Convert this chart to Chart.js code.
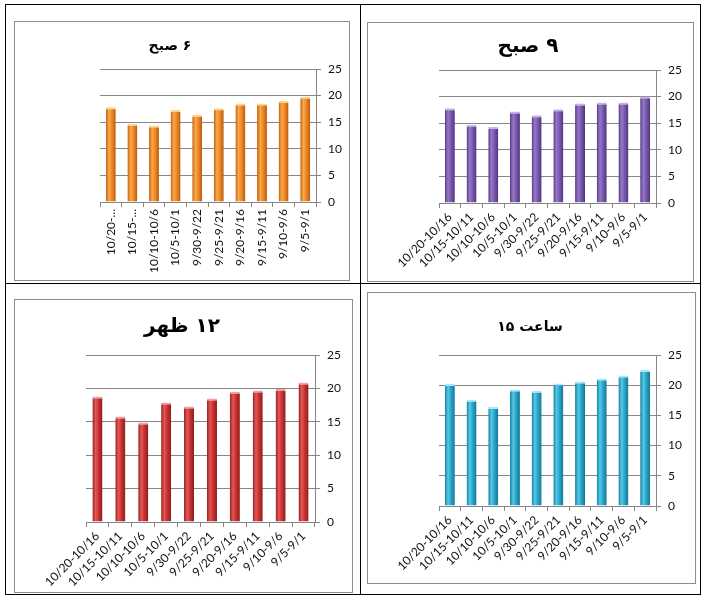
<!DOCTYPE html>
<html>
<head>
<meta charset="utf-8">
<script src="https://cdn.jsdelivr.net/npm/chart.js@4.4.1/dist/chart.umd.min.js"></script>
<style>
  html, body { margin: 0; padding: 0; background: #fff; }
  body { width: 704px; height: 596px; position: relative; overflow: hidden; }
  .line { position: absolute; background: #000; }
  .frame { position: absolute; border: 1px solid #8c8c8c; box-sizing: border-box; }
  canvas { position: absolute; }
</style>
</head>
<body>
<!-- outer black grid -->
<div class="line" style="left:5px; top:4px; width:696px; height:1px;"></div>
<div class="line" style="left:5px; top:594px; width:696px; height:1px;"></div>
<div class="line" style="left:5px; top:4px; width:1px; height:591px;"></div>
<div class="line" style="left:700px; top:4px; width:1px; height:591px;"></div>
<div class="line" style="left:360px; top:4px; width:1px; height:591px;"></div>
<div class="line" style="left:5px; top:283px; width:696px; height:1px;"></div>

<!-- grey chart frames -->
<div class="frame" style="left:14px; top:21px; width:336px; height:260px;"></div>
<div class="frame" style="left:367px; top:22px; width:327px; height:260px;"></div>
<div class="frame" style="left:14px; top:299px; width:339px; height:294px;"></div>
<div class="frame" style="left:367px; top:292px; width:329px; height:292px;"></div>

<canvas id="c1" width="334" height="258" style="left:15px; top:22px;"></canvas>
<canvas id="c2" width="325" height="258" style="left:368px; top:23px;"></canvas>
<canvas id="c3" width="337" height="292" style="left:15px; top:300px;"></canvas>
<canvas id="c4" width="327" height="290" style="left:368px; top:293px;"></canvas>

<script>
// ---------- data ----------
const categories = ['10/20-10/16','10/15-10/11','10/10-10/6','10/5-10/1','9/30-9/22','9/25-9/21','9/20-9/16','9/15-9/11','9/10-9/6','9/5-9/1'];
const categoriesTruncated = ['10/20-...','10/15-...','10/10-10/6','10/5-10/1','9/30-9/22','9/25-9/21','9/20-9/16','9/15-9/11','9/10-9/6','9/5-9/1'];
const yTickValues = [0, 5, 10, 15, 20, 25];
const titles = ['۶ صبح', '۹ صبح', '۱۲ ظهر', 'ساعت ۱۵'];
const temp6am  = [17.8, 14.7, 14.4, 17.3, 16.4, 17.6, 18.5, 18.5, 19.0, 19.8];
const temp9am  = [17.8, 14.7, 14.3, 17.2, 16.5, 17.6, 18.7, 18.9, 18.9, 20.0];
const temp12pm = [18.8, 15.8, 14.9, 17.9, 17.3, 18.5, 19.5, 19.7, 19.9, 20.9];
const temp15   = [20.2, 17.6, 16.4, 19.3, 19.1, 20.3, 20.6, 21.1, 21.6, 22.5];

// ---------- styles ----------
const palettes = [
  { stops: ['#c4600f', '#f9a84c', '#ee8a26', '#bb5a0e'], cap: '#fcd28f' },
  { stops: ['#553887', '#9679c6', '#7a5aae', '#4f3480'], cap: '#c7b4e6' },
  { stops: ['#961f1f', '#e45858', '#c93232', '#8f1c1c'], cap: '#f5a0a0' },
  { stops: ['#167d9c', '#55c8e8', '#2ba6ca', '#137695'], cap: '#a6e6f7' }
];

const panels = [
  { id: 'c1', data: temp6am,  labels: categoriesTruncated, rot: 90, pad: {left: 85, top: 47, bottom: 0, right: 0}, yW: 33, xH: 78, title: {x: 155, y: 24, size: 14}, bar: 0.46 },
  { id: 'c2', data: temp9am,  labels: categories, rot: 45, pad: {left: 71, top: 47, bottom: 0, right: 0}, yW: 37, xH: 78, title: {x: 160, y: 24, size: 20}, bar: 0.46 },
  { id: 'c3', data: temp12pm, labels: categories, rot: 45, pad: {left: 71, top: 55, bottom: 0, right: 0}, yW: 37, xH: 70, title: {x: 167, y: 27, size: 20}, bar: 0.44 },
  { id: 'c4', data: temp15,   labels: categories, rot: 45, pad: {left: 71, top: 62, bottom: 0, right: 0}, yW: 39, xH: 77, title: {x: 162, y: 34, size: 14}, bar: 0.46 }
];

const titlePlugin = {
  id: 'panelTitle',
  afterDraw(chart, args, opts) {
    const ctx = chart.ctx;
    ctx.save();
    ctx.font = 'bold ' + opts.size + 'px "DejaVu Sans", sans-serif';
    ctx.fillStyle = '#000';
    ctx.textAlign = 'center';
    ctx.textBaseline = 'middle';
    ctx.direction = 'rtl';
    ctx.fillText(opts.text, opts.x, opts.y);
    ctx.restore();
  }
};

panels.forEach((p, i) => {
  const pal = palettes[i];
  new Chart(document.getElementById(p.id), {
    type: 'bar',
    data: {
      labels: p.labels,
      datasets: [{
        data: p.data,
        barPercentage: p.bar,
        categoryPercentage: 1,
        borderColor: pal.cap,
        borderWidth: { top: 2, left: 0, right: 0, bottom: 0 },
        borderSkipped: 'bottom',
        backgroundColor: (ctx) => {
          const chart = ctx.chart;
          const xs = chart.scales.x;
          if (!xs || !chart.chartArea || ctx.dataIndex === undefined) return pal.stops[2];
          const cx = xs.getPixelForValue(ctx.dataIndex);
          const w = (xs.width / p.data.length) * p.bar;
          if (!isFinite(cx) || !isFinite(w) || w <= 0) return pal.stops[2];
          const g = chart.ctx.createLinearGradient(cx - w / 2, 0, cx + w / 2, 0);
          g.addColorStop(0, pal.stops[0]);
          g.addColorStop(0.32, pal.stops[1]);
          g.addColorStop(0.6, pal.stops[2]);
          g.addColorStop(1, pal.stops[3]);
          return g;
        }
      }]
    },
    options: {
      responsive: false,
      animation: false,
      events: [],
      layout: { padding: p.pad },
      plugins: {
        legend: { display: false },
        tooltip: { enabled: false },
        title: { display: false },
        panelTitle: { text: titles[i], x: p.title.x, y: p.title.y, size: p.title.size }
      },
      scales: {
        x: {
          afterFit(scale) { scale.height = p.xH; },
          grid: { display: true, drawOnChartArea: false, offset: true, tickLength: 5, color: '#868686' },
          border: { display: true, color: '#868686' },
          ticks: {
            autoSkip: false,
            minRotation: p.rot, maxRotation: p.rot,
            padding: 2,
            color: '#111',
            font: { family: 'Lato, "Liberation Sans", sans-serif', size: 12 }
          }
        },
        y: {
          position: 'right',
          min: 0, max: 25,
          afterFit(scale) { scale.width = p.yW; },
          afterBuildTicks(scale) { scale.ticks = yTickValues.map(v => ({ value: v })); },
          grid: { color: '#868686', tickLength: 5 },
          border: { display: true, color: '#868686' },
          ticks: {
            padding: 7,
            color: '#111',
            crossAlign: 'near',
            font: { family: 'Lato, "Liberation Sans", sans-serif', size: 12 }
          }
        }
      }
    },
    plugins: [titlePlugin]
  });
});
</script>
</body>
</html>
